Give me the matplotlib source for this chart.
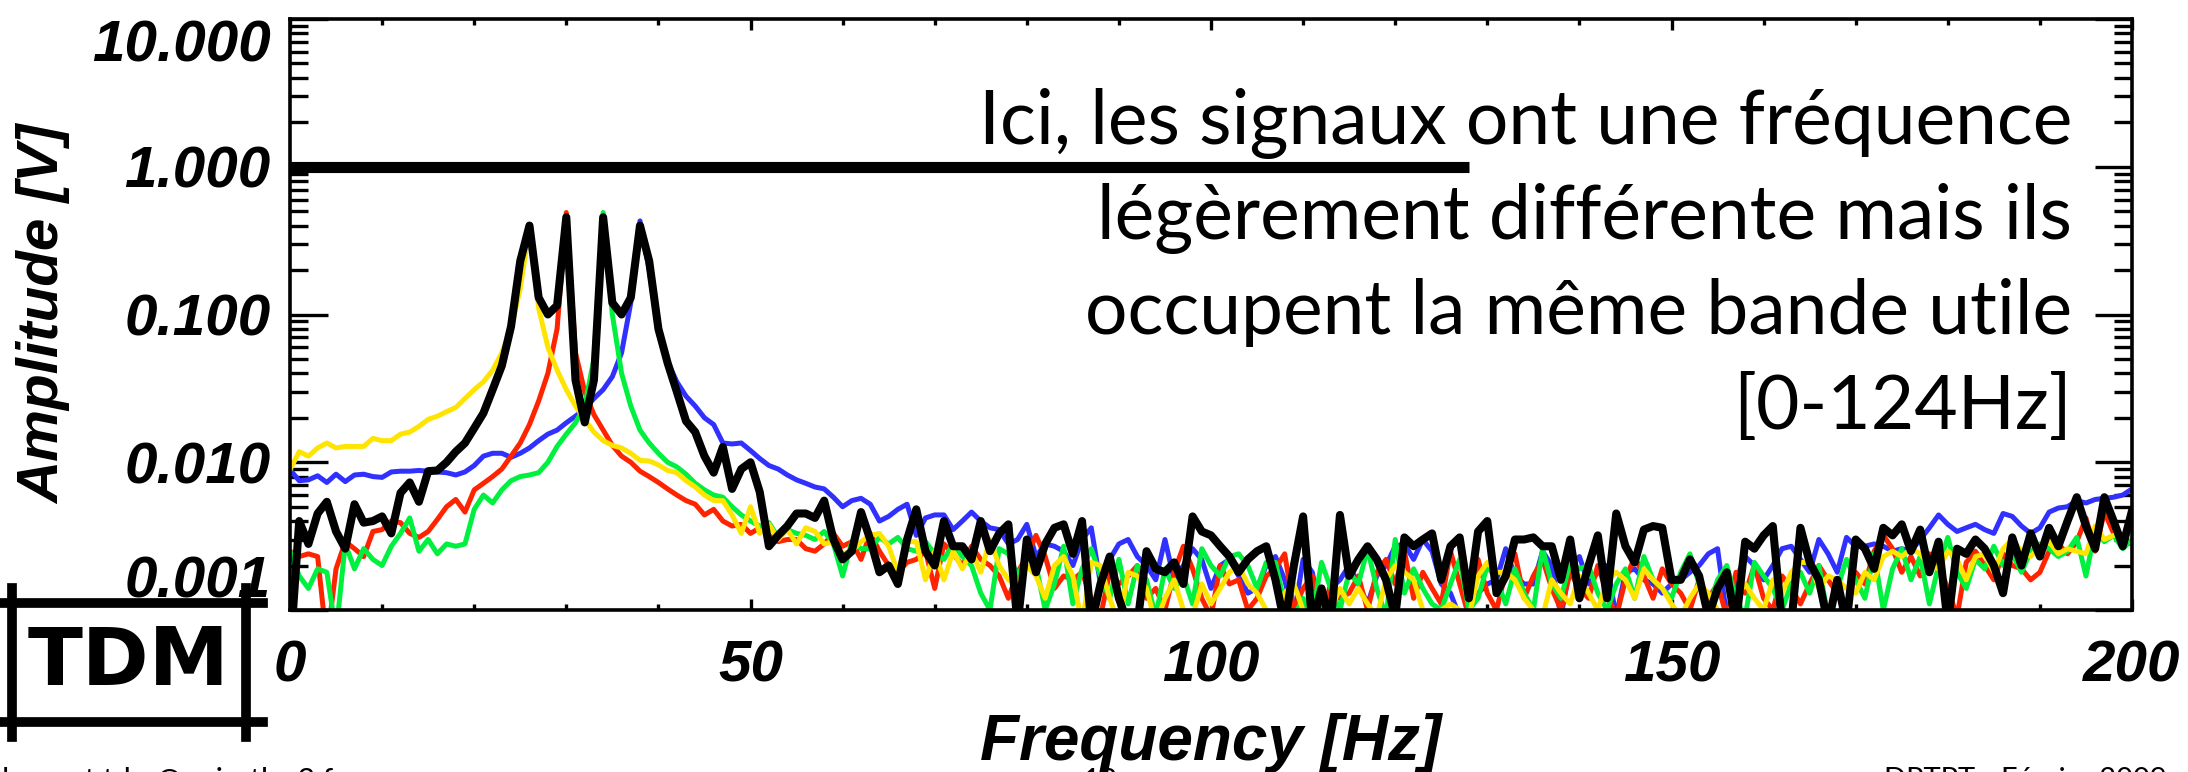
import numpy as np
import matplotlib
matplotlib.use("Agg")
import matplotlib.pyplot as plt
from matplotlib import font_manager
from matplotlib.ticker import FixedLocator, LogLocator, NullFormatter

# frequency axis of the spectra (1 Hz bins, 0..200 Hz)
freq = np.arange(0, 201)

# amplitudes, in mV (converted to V below)
blue_mv = [8.9, 7.5, 7.6, 8.1, 7.3, 8.3, 7.4, 8.2, 8.3, 8.0,
           7.9, 8.6, 8.7, 8.7, 8.8, 8.7, 8.6, 8.5, 8.2, 8.6,
           9.5, 11.0, 11.5, 11.5, 10.8, 11.5, 12.5, 14.0, 15.5, 16.5,
           18.5, 20.5, 23, 27, 31, 38, 55, 120, 430, 200,
           75, 48, 35, 28, 24, 20, 18, 13.5, 13.3, 13.5,
           12, 10.6, 9.5, 9.0, 8.2, 7.6, 7.2, 6.8, 6.6, 5.8,
           5.0, 5.5, 5.7, 5.2, 4.0, 4.3, 4.8, 5.2, 3.2, 4.2,
           4.4, 4.4, 3.5, 4.0, 4.6, 4.0, 3.6, 3.5, 2.8, 3.0,
           3.8, 2.3, 2.8, 2.7, 2.5, 2.0, 3.0, 3.6, 1.5, 2.2,
           2.8, 3.0, 2.3, 2.0, 1.6, 3.0, 1.6, 2.0, 2.6, 2.2,
           1.4, 2.0, 2.2, 1.7, 1.3, 1.4, 2.0, 2.3, 1.6, 0.9,
           2.2, 1.8, 0.9, 1.4, 1.6, 2.0, 1.5, 1.1, 1.7, 2.0,
           2.7, 2.8, 2.2, 3.0, 2.5, 1.5, 1.3, 0.9, 1.0, 1.3,
           1.5, 1.6, 2.6, 1.7, 1.5, 1.5, 2.5, 2.0, 0.9, 2.0,
           2.3, 1.5, 1.8, 2.0, 0.9, 1.8, 1.9, 1.6, 1.5, 1.3,
           1.5, 1.6, 1.8, 2.0, 2.4, 2.6, 0.9, 1.6, 2.3, 2.0,
           1.6, 2.0, 2.6, 2.7, 2.2, 1.8, 3.0, 2.4, 1.8, 3.1,
           2.7, 2.7, 2.8, 2.7, 2.5, 2.6, 2.5, 3.0, 3.6, 4.4,
           3.8, 3.4, 3.6, 3.8, 3.5, 3.3, 4.5, 4.3, 3.7, 3.3,
           3.6, 4.6, 4.9, 5.0, 5.5, 5.3, 5.6, 5.7, 5.8, 6.0,
           6.6]

red_mv = [2.5, 2.3, 2.4, 2.3, 0.6, 1.9, 2.9, 2.6, 2.3, 3.4,
          3.5, 4.0, 3.9, 3.3, 3.1, 3.4, 4.1, 5.0, 5.6, 4.6,
          6.5, 7.2, 8.0, 9.0, 11, 13.5, 18, 26, 40, 80,
          490, 55, 30, 21, 16.5, 13, 11, 10, 8.7, 8.0,
          7.3, 6.6, 6.0, 5.5, 5.2, 4.4, 4.8, 4.0, 3.7, 3.8,
          3.3, 3.6, 3.2, 2.9, 3.0, 3.0, 2.6, 2.5, 2.8, 3.3,
          2.7, 2.9, 2.2, 3.3, 2.5, 2.0, 1.8, 2.1, 2.2, 2.5,
          1.4, 2.8, 2.4, 2.0, 2.7, 2.2, 2.0, 1.7, 1.2, 1.8,
          2.3, 3.2, 2.3, 1.4, 1.7, 1.6, 1.8, 1.2, 0.9, 1.8,
          1.5, 1.7, 2.0, 1.2, 1.4, 1.0, 1.8, 2.7, 1.9, 1.2,
          0.9, 2.0, 1.5, 1.6, 1.0, 1.2, 1.7, 1.9, 2.4, 1.0,
          1.4, 1.7, 0.9, 1.5, 1.2, 1.3, 1.7, 1.0, 1.8, 2.2,
          1.5, 2.5, 1.2, 1.8, 1.4, 1.1, 2.5, 1.5, 0.9, 2.2,
          1.3, 1.0, 1.8, 2.4, 1.2, 1.7, 2.2, 1.4, 1.0, 1.8,
          1.4, 1.2, 2.0, 1.3, 0.9, 1.6, 2.3, 1.7, 1.2, 1.9,
          1.5, 1.3, 1.0, 1.6, 1.2, 1.5, 0.9, 1.8, 1.3, 2.0,
          1.2, 1.0, 1.7, 1.4, 1.1, 1.5, 2.0, 1.6, 1.3, 1.0,
          1.8, 1.5, 2.5, 3.2, 2.6, 1.8, 2.3, 1.7, 2.4, 2.0,
          1.4, 0.9, 2.1, 2.5, 2.0, 1.6, 2.4, 2.0, 1.9, 1.6,
          1.8, 2.5, 2.8, 2.4, 2.9, 4.2, 2.5, 4.6, 3.3, 2.9,
          2.8]

green_mv = [2.5, 1.7, 1.4, 1.9, 1.8, 0.7, 2.8, 1.9, 2.6, 2.2,
            2.0, 2.7, 3.3, 4.2, 2.5, 3.0, 2.4, 2.8, 2.7, 2.8,
            4.8, 6.0, 5.3, 6.5, 7.5, 8.0, 8.2, 8.5, 10.0, 12.8,
            15.5, 18.5, 24, 50, 490, 100, 40, 24, 16.5, 13.5,
            11.5, 10.0, 9.3, 8.3, 7.2, 6.5, 6.0, 5.8, 5.0, 4.4,
            4.0, 3.7, 3.9, 3.1, 3.5, 3.3, 3.2, 3.0, 3.4, 2.8,
            1.7, 2.9, 2.6, 2.6, 3.1, 2.8, 3.1, 2.6, 2.5, 2.9,
            2.4, 2.2, 2.8, 2.3, 2.0, 1.3, 1.0, 2.6, 2.4, 1.7,
            2.3, 2.0, 1.0, 1.5, 2.7, 1.1, 1.9, 2.6, 1.7, 1.2,
            2.2, 1.1, 2.0, 1.6, 0.9, 1.9, 1.4, 1.7, 1.1, 2.6,
            2.0, 1.7, 2.3, 2.4, 2.0, 1.4, 2.1, 2.1, 1.1, 0.9,
            1.2, 0.9, 2.1, 1.4, 1.0, 1.8, 1.5, 2.6, 1.4, 0.9,
            3.0, 1.3, 1.9, 1.4, 1.1, 1.0, 1.5, 2.2, 1.0, 1.2,
            2.0, 1.6, 1.1, 1.9, 1.3, 1.0, 2.6, 1.5, 1.2, 2.1,
            1.9, 2.0, 1.3, 1.0, 1.5, 1.9, 1.2, 2.3, 1.6, 1.4,
            1.2, 1.8, 2.4, 1.5, 1.0, 1.6, 2.0, 1.2, 0.9, 2.1,
            1.7, 1.4, 1.0, 1.5, 1.8, 1.3, 2.0, 0.9, 1.4, 2.2,
            1.6, 1.2, 2.4, 1.0, 1.9, 2.6, 1.6, 2.3, 1.1, 2.0,
            3.1, 1.8, 1.4, 2.2, 1.9, 2.7, 2.0, 2.4, 1.8, 2.5,
            2.8, 2.6, 2.3, 2.5, 3.1, 1.7, 3.5, 2.9, 3.2, 2.6,
            3.0]

yellow_mv = [8.9, 11.8, 11.0, 12.5, 13.5, 12.5, 12.8, 12.8, 12.8, 14.5,
             14.0, 14.0, 15.5, 16.0, 17.5, 19.5, 20.5, 22.0, 23.5, 27,
             31, 35, 42, 55, 80, 150, 390, 110, 60, 42,
             31, 24, 19.5, 16, 14, 13, 12.5, 11.5, 10.3, 10.2,
             9.6, 8.8, 8.5, 7.5, 6.8, 6.0, 5.5, 5.5, 4.4, 3.3,
             5.0, 3.3, 3.8, 3.0, 3.5, 2.8, 3.6, 3.4, 2.8, 2.9,
             2.4, 2.5, 2.9, 3.2, 3.3, 2.7, 1.8, 2.9, 2.9, 1.6,
             2.5, 1.6, 2.5, 1.9, 2.5, 1.8, 3.0, 2.0, 1.6, 1.5,
             2.0, 1.7, 1.2, 2.0, 2.3, 1.7, 0.8, 2.1, 2.0, 1.2,
             0.8, 1.8, 1.7, 1.4, 0.8, 1.2, 1.6, 1.0, 0.9, 1.5,
             1.1, 1.4, 1.8, 2.0, 1.5, 1.3, 1.0, 0.8, 1.3, 1.5,
             1.0, 0.9, 1.3, 1.0, 1.4, 1.1, 1.4, 1.1, 0.9, 1.6,
             2.0, 1.8, 1.6, 1.0, 0.9, 1.0, 1.1, 1.0, 0.9, 1.7,
             2.1, 1.8, 1.8, 1.6, 1.2, 1.0, 0.9, 1.6, 1.3, 1.1,
             1.7, 1.3, 1.0, 1.6, 1.8, 1.6, 1.2, 1.9, 1.6, 1.4,
             1.1, 0.9, 1.2, 1.5, 1.3, 1.0, 0.9, 1.2, 1.5, 1.2,
             1.0, 1.6, 1.3, 1.8, 2.1, 2.1, 1.4, 1.7, 1.6, 1.4,
             1.3, 1.8, 1.6, 2.3, 2.5, 2.3, 2.6, 2.4, 2.0, 1.9,
             2.5, 2.2, 1.6, 2.3, 2.4, 1.8, 2.6, 3.0, 2.5, 2.3,
             2.7, 2.9, 2.4, 2.6, 2.5, 2.4, 3.7, 3.0, 3.2, 3.2,
             3.5]

black_mv = [0.5, 4.0, 2.8, 4.5, 5.4, 3.4, 2.6, 5.2, 3.9, 4.0,
            4.3, 3.3, 6.2, 7.3, 5.4, 8.7, 8.8, 10.0, 11.8, 13.5,
            17, 21.5, 31, 45, 83, 230, 400, 130, 100, 115,
            455, 36, 18.6, 36, 455, 120, 100, 130, 400, 230,
            80, 47, 30, 19, 16, 11, 8.5, 12.7, 6.6, 9.0,
            10.0, 6.3, 2.7, 3.2, 3.7, 4.5, 4.5, 4.2, 5.5, 3.0,
            2.2, 2.5, 4.6, 3.0, 1.8, 2.0, 1.5, 3.0, 4.8, 2.5,
            2.0, 4.0, 2.7, 2.7, 2.2, 4.0, 2.5, 3.3, 3.8, 0.8,
            3.0, 1.8, 2.8, 3.6, 3.8, 2.4, 4.0, 0.8, 1.5, 2.3,
            1.2, 0.8, 0.8, 2.5, 1.9, 1.8, 2.1, 1.5, 4.3, 3.4,
            3.2, 2.7, 2.3, 1.8, 2.2, 2.5, 2.7, 1.6, 0.8, 2.0,
            4.3, 0.8, 1.4, 0.8, 4.4, 1.7, 2.2, 2.7, 2.2, 1.6,
            0.9, 3.1, 2.7, 3.0, 3.3, 1.6, 2.7, 3.1, 1.2, 3.4,
            4.0, 1.3, 1.7, 3.0, 3.0, 3.1, 2.7, 2.7, 1.6, 3.0,
            1.2, 2.0, 3.2, 1.2, 4.5, 2.7, 2.1, 3.5, 3.7, 3.6,
            1.6, 1.6, 2.2, 1.7, 0.9, 1.4, 1.8, 0.8, 2.9, 2.6,
            3.2, 3.7, 0.8, 0.8, 3.6, 2.1, 1.6, 0.8, 1.6, 0.8,
            3.0, 2.6, 1.9, 3.6, 3.2, 3.8, 2.5, 3.5, 1.8, 2.9,
            0.8, 2.6, 2.4, 3.0, 2.6, 2.0, 1.3, 3.1, 2.0, 3.3,
            2.3, 3.6, 2.7, 4.0, 5.8, 3.7, 2.6, 5.8, 4.0, 2.7,
            4.7]

series_mv = [blue_mv, red_mv, green_mv, yellow_mv]
series_colors = ["#3030ff", "#ff2400", "#00f040", "#ffe400"]

# reference level drawn as a thick bar
level_v = 1.0
level_f = [0, 128]

ytick_vals = [0.001, 0.01, 0.1, 1.0, 10.0]
ytick_text = ["0.001", "0.010", "0.100", "1.000", "10.000"]
xtick_vals = [0, 50, 100, 150, 200]

note_lines = ["Ici, les signaux ont une fréquence",
              "légèrement différente mais ils",
              "occupent la même bande utile",
              "[0-124Hz]"]

W, H = 2188, 772
fig = plt.figure(figsize=(W / 100, H / 100), dpi=100)
ax = fig.add_axes([290 / W, 1 - 610 / H, (2132 - 290) / W, (610 - 19) / H])

for vals, col in zip(series_mv, series_colors):
    ax.plot(freq, np.array(vals) / 1000.0, color=col, lw=3.6)
ax.plot(freq, np.array(black_mv) / 1000.0, color="black", lw=5.8)
ax.plot(level_f, [level_v, level_v], color="black", lw=8, solid_capstyle="butt")

ax.set_yscale("log")
ax.set_xlim(0, 200)
ax.set_ylim(0.001, 10)

ax.yaxis.set_major_locator(FixedLocator(ytick_vals))
ax.yaxis.set_minor_locator(LogLocator(base=10, subs=np.arange(2, 10)))
ax.yaxis.set_minor_formatter(NullFormatter())
ax.set_yticklabels(ytick_text)
ax.xaxis.set_major_locator(FixedLocator(xtick_vals))
ax.xaxis.set_minor_locator(FixedLocator(np.arange(0, 201, 10)))

tick_fp = dict(family="Liberation Sans", weight="bold", style="italic", size=42)
ax.tick_params(axis="both", which="both", direction="in", top=True, right=True, width=2.4)
ax.tick_params(axis="y", which="major", length=27, pad=14)
ax.tick_params(axis="y", which="minor", length=13)
ax.tick_params(axis="x", which="major", length=8, pad=21)
ax.tick_params(axis="x", which="minor", length=4)
for lab in ax.get_xticklabels() + ax.get_yticklabels():
    lab.set_fontproperties(font_manager.FontProperties(**tick_fp))
ylabs = ax.get_yticklabels()
ylabs[0].set_va("bottom")
ylabs[-1].set_va("top")

for sp in ax.spines.values():
    sp.set_linewidth(2.6)

ax.set_xlabel("Frequency [Hz]", labelpad=14, family="Liberation Sans",
              weight="bold", style="italic", size=46)
ax.set_ylabel("Amplitude [V]", **tick_fp)
ax.yaxis.set_label_coords(-0.119, 0.5)

# annotation text, right aligned
for i, line in enumerate(note_lines):
    fig.text(2072 / W, 1 - (144 + 95 * i) / H, line, ha="right", va="baseline",
             family="Lato", size=54, color="black")

# TDM box with crossing corner lines
box_lw = 7
fig.add_artist(plt.Line2D([0, 263 / W], [1 - 603 / H] * 2, color="black", lw=box_lw))
fig.add_artist(plt.Line2D([0, 263 / W], [1 - 722 / H] * 2, color="black", lw=box_lw))
fig.add_artist(plt.Line2D([12 / W] * 2, [1 - 588 / H, 1 - 737 / H], color="black", lw=box_lw))
fig.add_artist(plt.Line2D([246 / W] * 2, [1 - 588 / H, 1 - 737 / H], color="black", lw=box_lw))
fig.text(128 / W, 1 - 663 / H, "TDM", ha="center", va="center",
         family="DejaVu Sans", weight="bold", size=58)

# footer (cut by the bottom edge)
fig.text(2 / W, 1 - 767 / H, "laurent.tdm@univ-tlse3.fr", ha="left", va="top",
         family="Lato", size=22)
fig.text(1100 / W, 1 - 767 / H, "12", ha="center", va="top", family="Lato", size=22)
fig.text(2167 / W, 1 - 767 / H, "DPTPT - Février 2009", ha="right", va="top",
         family="Lato", size=21)

fig.savefig("out.png", dpi=100)
